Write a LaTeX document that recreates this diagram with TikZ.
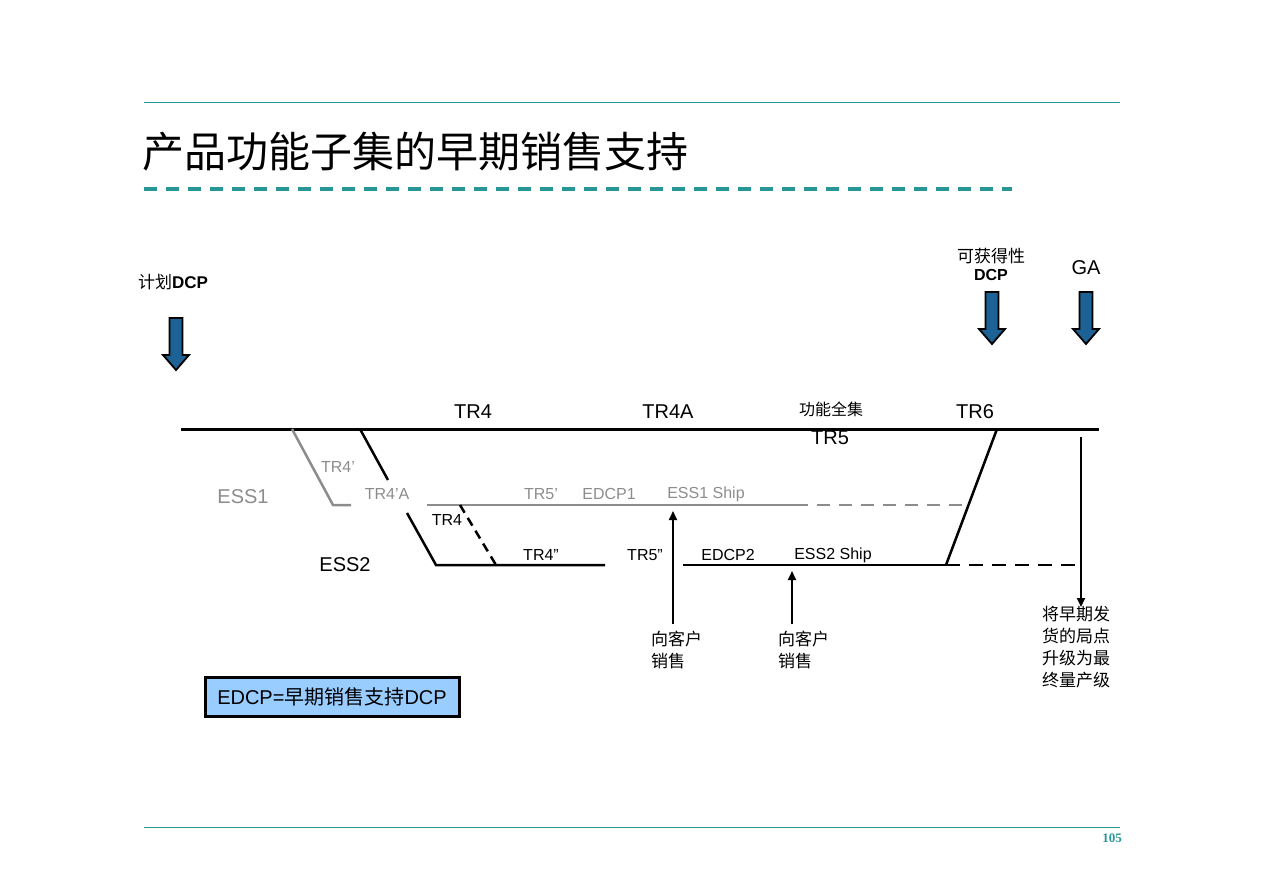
\documentclass[tikz,border=0pt]{standalone}
\usepackage{fontspec}
\setmainfont{Liberation Sans}
\newfontfamily\cjk{Noto Sans CJK SC}
\newfontfamily\numfont{Liberation Serif}
\usetikzlibrary{arrows.meta}
\definecolor{tealline}{RGB}{40,150,150}
\definecolor{arrowblue}{RGB}{28,98,148}
\definecolor{essgray}{RGB}{140,140,140}
\definecolor{boxblue}{RGB}{153,204,255}
\tikzset{
  lbl/.style={inner sep=0pt, font=\fontsize{20}{24}\selectfont},
  slbl/.style={inner sep=0pt, font=\fontsize{16}{20}\selectfont},
  cjklbl/.style={inner sep=0pt, font=\cjk\fontsize{17}{22}\selectfont, align=left},
  mainline/.style={line width=3pt},
  graybranch/.style={line width=2.5pt, essgray},
  blackbranch/.style={line width=2.5pt, black},
  uparrow/.style={line width=1.8pt, -{Triangle[length=9pt,width=8pt]}},
  bluearrow/.pic={
    \path[draw=black, line width=1.8pt, fill=arrowblue, line join=miter]
      (-6.5,0) -- (6.5,0) -- (6.5,37) -- (13,37) -- (0,52) -- (-13,37) -- (-6.5,37) -- cycle;
  }
}
\begin{document}
\begin{tikzpicture}[x=1pt,y=-1pt]
\useasboundingbox (0,0) rectangle (1263,892);
% frame lines
\coordinate (tl1) at (144,102); \coordinate (tl2) at (1120,102);
\coordinate (bl1) at (144,827); \coordinate (bl2) at (1120,827);
\coordinate (dl1) at (144,189); \coordinate (dl2) at (1012,189);
\draw[tealline, line width=1pt] (tl1) -- (tl2);
\draw[tealline, line width=1pt] (bl1) -- (bl2);
\draw[tealline, line width=3.5pt, dash pattern=on 13pt off 9pt] (dl1) -- (dl2);
\node[anchor=west, inner sep=0pt, font=\cjk\fontsize{42}{50}\selectfont] (title) at (142,152) {产品功能子集的早期销售支持};
\node[inner sep=0pt, text=tealline, font=\numfont\bfseries\fontsize{13}{15}\selectfont] (pageno) at (1112,838) {105};

% milestone arrows
\node[anchor=west, inner sep=0pt, font=\fontsize{17}{20}\selectfont] (plandcp) at (138,282) {{\cjk 计划}\textbf{DCP}};
\pic (arr1) at (176,318) {bluearrow};
\node[cjklbl] (avail) at (991,256) {可获得性};
\node[inner sep=0pt, font=\bfseries\fontsize{16}{20}\selectfont] (availdcp) at (991,275) {DCP};
\pic (arr2) at (992,292) {bluearrow};
\node[inner sep=0pt, font=\fontsize{20}{24}\selectfont] (ga) at (1086,268) {GA};
\pic (arr3) at (1086,292) {bluearrow};

% main line
\coordinate (m1) at (181,429); \coordinate (m2) at (1099,429);
\draw[mainline] (m1) -- (m2);
\node[lbl] (tr4) at (473,412) {TR4};
\node[lbl] (tr4a) at (668,412) {TR4A};
\node[cjklbl, font=\cjk\fontsize{16}{20}\selectfont] (full) at (831,409) {功能全集};
\node[lbl] (tr6) at (975,412) {TR6};
\node[lbl] (tr5) at (830,438) {TR5};

% ESS1 (gray)
\coordinate (g1) at (292,429); \coordinate (g2) at (333,505); \coordinate (g3) at (351,505);
\draw[graybranch, line join=miter] (g1) -- (g2) -- (g3);
\coordinate (g4) at (427,505); \coordinate (g5) at (795,505); \coordinate (g6) at (966,505);
\draw[graybranch] (g4) -- (g5);
\draw[graybranch, dash pattern=on 13pt off 9pt] (g5) -- (g6);
\node[lbl, text=essgray] (ess1) at (243,497) {ESS1};
\node[slbl, text=essgray] (tr4p) at (338,467) {TR4’};
\node[slbl, text=essgray] (tr4pa) at (387,494) {TR4’A};
\node[slbl, text=essgray] (tr5p) at (541,494) {TR5’};
\node[slbl, text=essgray] (edcp1) at (609,494) {EDCP1};
\node[slbl, text=essgray] (ess1ship) at (706,494) {ESS1 Ship};

% ESS2 (black)
\coordinate (b1) at (360,429); \coordinate (b2) at (388,480);
\draw[blackbranch] (b1) -- (b2);
\coordinate (b3) at (407,513); \coordinate (b4) at (436,565); \coordinate (b5) at (605,565);
\draw[blackbranch, line join=miter] (b3) -- (b4) -- (b5);
\coordinate (d1) at (460,505); \coordinate (d2) at (496,565);
\draw[blackbranch, dash pattern=on 9pt off 6pt] (d1) -- (d2);
\coordinate (b6) at (683,565); \coordinate (b7) at (946,565); \coordinate (b8) at (1080,565);
\draw[blackbranch] (b6) -- (b7);
\draw[blackbranch, dash pattern=on 14pt off 9pt] (b7) -- (b8);
\coordinate (t6a) at (997,429);
\draw[blackbranch] (t6a) -- (b7);
\node[lbl] (ess2) at (345,565) {ESS2};
\node[slbl] (tr4b) at (447,520) {TR4};
\node[slbl] (tr4pp) at (541,555) {TR4”};
\node[slbl] (tr5pp) at (645,555) {TR5”};
\node[slbl] (edcp2) at (728,555) {EDCP2};
\node[slbl] (ess2ship) at (833,555) {ESS2 Ship};

% sales arrows
\node[cjklbl, anchor=north west] (sale1) at (651,631) {向客户\\销售};
\node[cjklbl, anchor=north west] (sale2) at (778,631) {向客户\\销售};
\coordinate (s1b) at (673,624); \coordinate (s1t) at (673,511);
\coordinate (s2b) at (792,624); \coordinate (s2t) at (792,571);
\draw[uparrow] (s1b) -- (s1t);
\draw[uparrow] (s2b) -- (s2t);

% upgrade arrow
\coordinate (u1) at (1081,437); \coordinate (u2) at (1081,607);
\draw[uparrow] (u1) -- (u2);
\node[cjklbl, anchor=north west] (upgrade) at (1042,606) {将早期发\\货的局点\\升级为最\\终量产级};

% legend box
\node[draw=black, line width=3pt, fill=boxblue, minimum width=254pt, minimum height=39pt, inner sep=0pt, font=\fontsize{20}{24}\selectfont] (legend) at (332,697) {EDCP={\cjk 早期销售支持}DCP};
\end{tikzpicture}
\end{document}
